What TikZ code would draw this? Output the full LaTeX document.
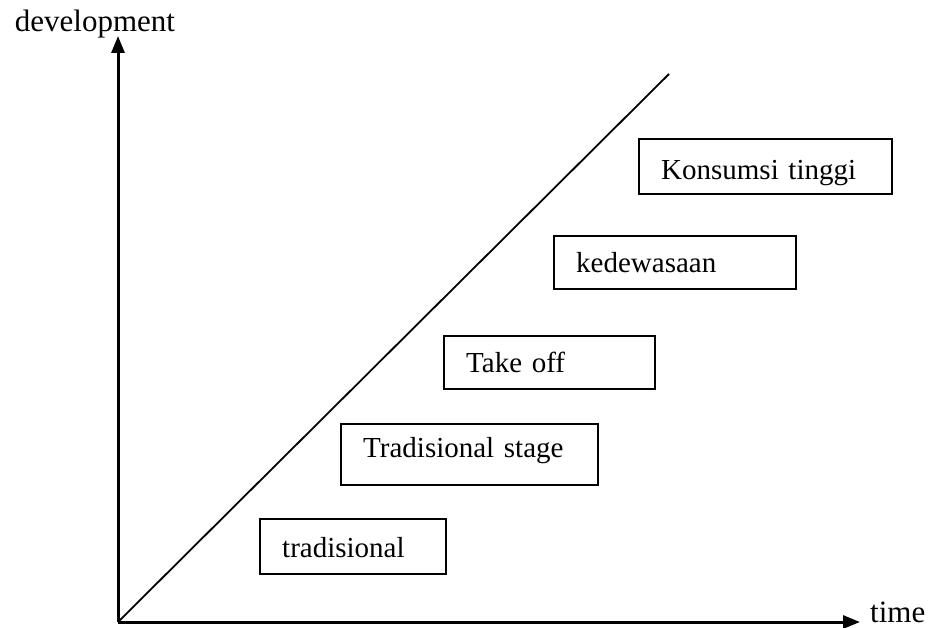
\documentclass[tikz,border=0pt]{standalone}
\usepackage{fontspec}
\setmainfont{Liberation Serif}
\usetikzlibrary{arrows.meta}
\begin{document}
\begin{tikzpicture}[x=1pt,y=-1pt,
  axis/.style={line width=3pt,-{Triangle[length=17pt,width=13pt]}},
  diag/.style={line width=1.8pt},
  stagebox/.style={draw,line width=2.4pt,anchor=north west,inner xsep=22pt,inner ysep=0pt,
    align=left,font=\fontsize{29}{34}\selectfont},
  axlabel/.style={inner sep=0pt,font=\fontsize{31}{36}\selectfont}]
\useasboundingbox (0,0) rectangle (931,628);
\coordinate (O) at (118,622);
\coordinate (Ytip) at (118,36);
\coordinate (Xtip) at (860,622);
\coordinate (Dend) at (669,74);
\draw[axis] (O) -- (Ytip);
\draw[axis] (O) -- (Xtip);
\draw[diag] (O) -- (Dend);
\node[axlabel,anchor=base] (dev) at (95,32) {development};
\node[axlabel,anchor=base west] (time) at (870,622) {time};
\node[stagebox,text width=142pt,text height=38.7pt,text depth=16.3pt] (s1) at (259,518) {tradisional};
\node[stagebox,text width=213pt,text height=33.7pt,text depth=27.3pt] (s2) at (340,423) {Tradisional stage};
\node[stagebox,text width=167pt,text height=36.7pt,text depth=16.3pt] (s3) at (443,335) {Take off};
\node[stagebox,text width=198pt,text height=36.7pt,text depth=16.3pt] (s4) at (553,235) {kedewasaan};
\node[stagebox,text width=209pt,text height=40pt,text depth=15pt] (s5) at (638,138) {Konsumsi tinggi};
\end{tikzpicture}
\end{document}
